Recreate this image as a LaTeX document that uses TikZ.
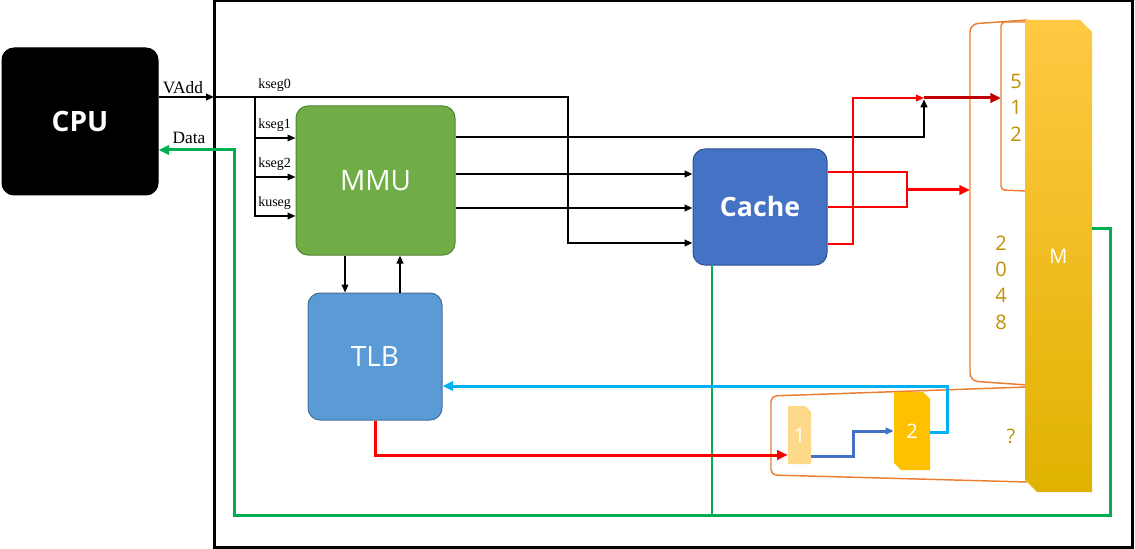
\documentclass[tikz,border=0pt]{standalone}
\usepackage{fontspec}
\setmainfont{Liberation Serif}
\newfontfamily\osans{Open Sans}
\usetikzlibrary{arrows.meta}
\definecolor{mmuF}{HTML}{70AD47}
\definecolor{mmuD}{HTML}{548235}
\definecolor{cacF}{HTML}{4472C4}
\definecolor{cacD}{HTML}{2F528F}
\definecolor{tlbF}{HTML}{5B9BD5}
\definecolor{tlbD}{HTML}{41719C}
\definecolor{grn}{HTML}{00B050}
\definecolor{rd}{HTML}{FF0000}
\definecolor{drd}{HTML}{C00000}
\definecolor{cyn}{HTML}{00B0F0}
\definecolor{blu}{HTML}{4472C4}
\definecolor{org}{HTML}{ED7D31}
\definecolor{dig}{HTML}{BF9000}
\definecolor{bxA}{HTML}{FFD98A}
\definecolor{bxB}{HTML}{FFC000}
\definecolor{mT}{HTML}{FFC944}
\definecolor{mM}{HTML}{FFC000}
\definecolor{mB}{HTML}{E0B200}
\begin{document}
\begin{tikzpicture}[x=0.75pt,y=-0.75pt,
  blk/.style={draw=black,line width=1.5pt},
  thn/.style={draw=black,line width=1.1pt},
  arr/.style={-{Triangle[length=6pt,width=5pt]}},
  arrL/.style={-{Triangle[length=8pt,width=7pt]}},
  rthin/.style={draw=rd,line width=1.1pt},
  rthick/.style={draw=rd,line width=2.25pt},
  grnl/.style={draw=grn,line width=2.25pt},
  unit/.style={rounded corners=9pt, inner sep=0pt, text=white, font=\osans\fontsize{21}{24}\selectfont, line width=0.75pt},
  lab/.style={font=\fontsize{13}{15}\selectfont, inner sep=0pt},
  klab/.style={font=\fontsize{10.5}{12}\selectfont, inner sep=0pt, anchor=west},
  obr/.style={draw=org, line width=1.1pt},
  num/.style={text=dig, font=\osans\fontsize{15}{19.8}\selectfont, align=center, inner sep=0pt},
  chip/.style={inner sep=0pt, text=white, font=\osans\fontsize{15}{18}\selectfont},
  ]
\useasboundingbox (0,0) rectangle (1135,549);

% frame and units
\node[draw=black, line width=2.25pt, inner sep=0pt, outer sep=0pt, minimum width=688.5pt, minimum height=409.5pt] (frame) at (673,274) {};
\node[unit, fill=black, draw=black, minimum width=117pt, minimum height=110.25pt, font=\osans\bfseries\fontsize{21}{24}\selectfont] (cpu) at (80,121.5) {CPU};
\node[unit, fill=mmuF, draw=mmuD, minimum width=119.25pt, minimum height=111.75pt] (mmu) at (375.5,180.5) {MMU};
\node[unit, fill=cacF, draw=cacD, minimum width=100.5pt, minimum height=87pt, font=\osans\bfseries\fontsize{20}{24}\selectfont] (cache) at (760,207) {Cache};
\node[unit, fill=tlbF, draw=tlbD, minimum width=100.5pt, minimum height=95.25pt] (tlb) at (375,356.5) {TLB};

% orange brackets
\draw[obr, rounded corners=6pt] (1027,20) -- (970,24) -- (970,381) -- (1027,385);
\draw[obr, rounded corners=3pt] (1027,22) -- (1001,22) -- (1001,190) -- (1027,191);
\draw[obr, rounded corners=4pt] (1027,387) -- (771,396) -- (771,475) -- (1027,482);

% memory bar
\shade[top color=mT, middle color=mM, bottom color=mB] (1025,20) -- (1080,20) -- (1092,32) -- (1092,492) -- (1037,492) -- (1025,480) -- cycle;
\node[chip, minimum width=50.25pt, minimum height=354pt] (mbar) at (1058.5,256) {M};

% small chips
\fill[bxA] (788,406) -- (805,406) -- (811,412) -- (811,464) -- (788,464) -- cycle;
\node[chip, minimum width=17.25pt, minimum height=43.5pt] (b1) at (799.5,435) {1};
\fill[bxB] (894,392) -- (923,392) -- (930,399) -- (930,470) -- (901,470) -- (894,463) -- cycle;
\node[chip, minimum width=27pt, minimum height=58.5pt] (b2) at (912,431) {2};

% numbers
\node[num] (n512) at (1016,107.5) {5\\1\\2};
\node[num] (n2048) at (1001,282.5) {2\\0\\4\\8};
\node[num] (nq) at (1011,436) {?};

% labels
\node[lab] (lvadd) at (183,88) {VAdd};
\node[lab] (ldata) at (189,138) {Data};
\node[klab] (lk0) at (258,85) {kseg0};
\node[klab] (lk1) at (258,125) {kseg1};
\node[klab] (lk2) at (258,164) {kseg2};
\node[klab] (lk3) at (258,203) {kuseg};

% helper coordinates
\coordinate (yv) at (0,97);
\coordinate (y1) at (0,138);
\coordinate (y2) at (0,177);
\coordinate (y3) at (0,216);
\coordinate (ym0) at (0,137);
\coordinate (ym1) at (0,174);
\coordinate (ym2) at (0,208);
\coordinate (yr1) at (0,172);
\coordinate (yr2) at (0,207);
\coordinate (yr3) at (0,244);
\coordinate (yg) at (0,228);
\coordinate (yc) at (0,432);
\coordinate (yt) at (0,455);
\coordinate (yb1) at (0,456);
\coordinate (yb2) at (0,431);
\coordinate (xd) at (345,0);
\coordinate (xu) at (400,0);
\coordinate (xg) at (712,0);
\coordinate (k0) at (568,243);
\coordinate (br) at (255,97);
\coordinate (jn) at (924,98);
\coordinate (rx) at (853,98);
\coordinate (rj) at (907,190);
\coordinate (bigL) at (970,190);
\coordinate (smallL) at (1001,98);
\coordinate (gR) at (1110,515);
\coordinate (gL) at (234,150);
\coordinate (cy) at (947,386);
\coordinate (bj) at (853,443);

% black connectors
\draw[blk,arr] (cpu.east |- yv) -- (frame.west |- yv);
\draw[blk,arr] (frame.west |- yv) -| (k0) -- (cache.west |- k0);
\draw[thn,arr] (br) |- (mmu.west |- y1);
\draw[thn,arr] (br) |- (mmu.west |- y2);
\draw[thn,arr] (br) |- (mmu.west |- y3);
\draw[blk,arr,shorten >=1pt] (mmu.east |- ym0) -| (jn);
\draw[blk,arr] (mmu.east |- ym1) -- (cache.west |- ym1);
\draw[blk,arr] (mmu.east |- ym2) -- (cache.west |- ym2);
\draw[thn,arr] (mmu.south -| xd) -- (tlb.north -| xd);
\draw[blk,arr] (tlb.north -| xu) -- (mmu.south -| xu);

% red connectors
\draw[rthin] (cache.east |- yr1) -| (rj) |- (cache.east |- yr2);
\draw[rthick,arrL] (rj) -- (bigL);
\draw[rthin,arr] (cache.east |- yr3) -| (rx) -- (jn);
\draw[draw=drd,line width=2.25pt,arrL] (jn) -- (smallL);

% green data path
\draw[grnl,arrL] (mbar.east |- yg) -| (gR) -| (gL) -- (cpu.east |- gL);
\draw[draw=grn,line width=1.5pt] (cache.south -| xg) -- (xg |- gR);

% lower connectors
\draw[draw=cyn,line width=2.25pt,arrL] (b2.east |- yc) -| (cy) -- (tlb.east |- cy);
\draw[rthick,arrL] (tlb.south) |- (b1.west |- yt);
\draw[draw=blu,line width=2.25pt,arr] (b1.east |- yb1) -| (bj) |- (b2.west |- yb2);
\end{tikzpicture}
\end{document}
